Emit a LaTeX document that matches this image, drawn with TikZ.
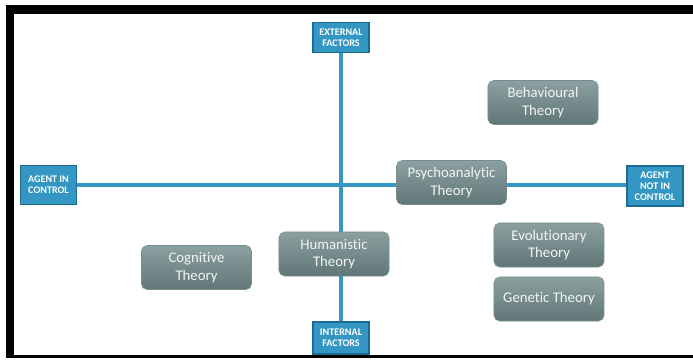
\documentclass[tikz,border=0pt]{standalone}
\usepackage{fontspec}
\setmainfont[Ligatures=NoCommon]{Carlito}
\usepackage{xcolor}
\definecolor{axisblue}{RGB}{52,152,196}
\definecolor{boxblue}{RGB}{52,150,195}
\definecolor{edgeblue}{RGB}{28,108,148}
\definecolor{theorytop}{RGB}{140,160,160}
\definecolor{theorybot}{RGB}{96,118,118}
\definecolor{theoryedge}{RGB}{120,140,140}
\definecolor{ltext}{RGB}{242,244,244}
\usetikzlibrary{positioning, backgrounds}
\tikzstyle{Factor} = [
draw=edgeblue,
line width=0.8pt,
fill=boxblue,
text=white,
font=\fontsize{7.2}{8}\selectfont\bfseries,
align=center,
inner sep=1pt,
minimum width=1.4cm]
\tikzstyle{Theory} = [
draw=theoryedge,
line width=0.4pt,
rounded corners=4pt,
top color=theorytop,
bottom color=theorybot,
text=ltext,
font=\fontsize{10.5}{12.5}\selectfont,
align=center,
minimum width=2.75cm,
minimum height=1.1cm]
\tikzstyle{Axis} = [
axisblue,
line width=2.2pt]

\begin{document}
\begin{tikzpicture}[x=0.025cm, y=-0.025cm]
    \useasboundingbox (0,0) rectangle (693,361);
    % frame
    \fill[black] (6,5) rectangle (693,14);
    \fill[black] (6,5) rectangle (14,358);
    \fill[black] (6,355) rectangle (693,358);

    \node[Factor, minimum height=0.73cm] (ext) at (341,37.5) {EXTERNAL\\FACTORS};
    \node[Factor, minimum height=0.8cm] (int) at (341,338) {INTERNAL\\FACTORS};
    \node[Factor, minimum height=0.97cm] (agentin) at (48.5,185) {AGENT IN\\CONTROL};
    \node[Factor, minimum height=1.0cm] (agentout) at (655,186) {AGENT\\NOT IN\\CONTROL};

    \node[Theory] (psy) at (451.5,182.5) {Psychoanalytic\\Theory};
    \node[Theory] (beh) at (543,102.5) {Behavioural\\Theory};
    \node[Theory] (evo) at (549,245) {Evolutionary\\Theory};
    \node[Theory] (gen) at (549,299) {Genetic Theory};
    \node[Theory] (hum) at (334,254) {Humanistic\\Theory};
    \node[Theory] (cog) at (196.5,267.5) {Cognitive\\Theory};

    \begin{scope}[on background layer]
    \draw[Axis] (ext.south) -- (int.north);
    \draw[Axis] (agentin.east) -- (agentin.east -| agentout.west);
    \end{scope}
\end{tikzpicture}
\end{document}
